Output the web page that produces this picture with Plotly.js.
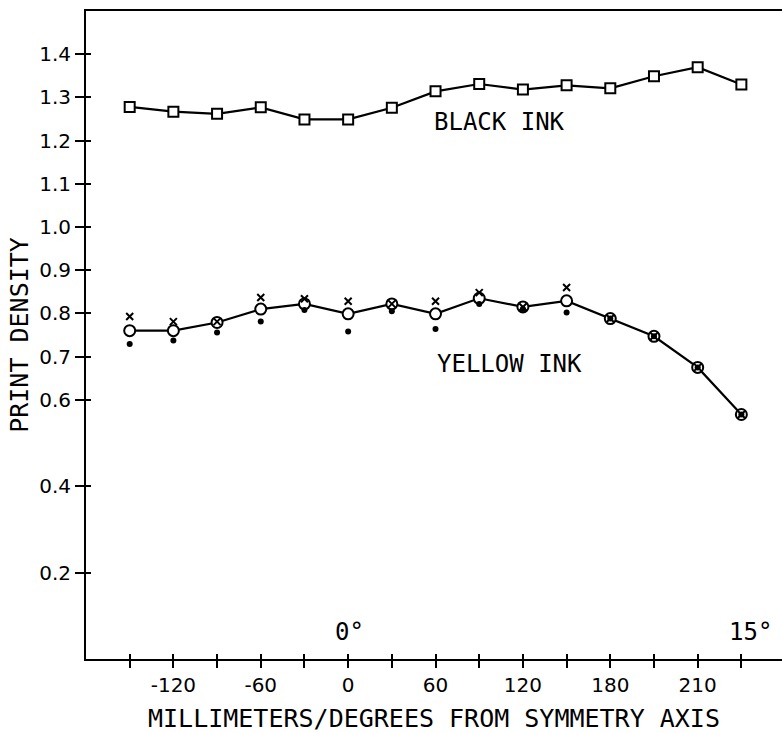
<!DOCTYPE html>
<html>
<head>
<meta charset="utf-8">
<script src="https://cdn.plot.ly/plotly-3.0.1.min.js"></script>
<style>html,body{margin:0;padding:0;background:#fff;overflow:hidden}</style>
</head>
<body>
<div id="chart" style="width:782px;height:733px"></div>
<script>
// Positions along the axis (millimetres / degrees from symmetry axis)
const positions = ['-150','-120','-90','-60','-30','0','30','60','90','120','150','180','195','210','225'];
const tickLabels = ['', '-120', '', '-60', '', '0', '', '60', '', '120', '', '180', '', '210', ''];

// Black ink print density (open squares)
const blackInk = [1.278, 1.267, 1.262, 1.277, 1.249, 1.249, 1.276, 1.314, 1.331, 1.318, 1.328, 1.321, 1.349, 1.370, 1.330];

// Yellow ink print density (open circles, joined)
const yellowInk = [0.760, 0.760, 0.779, 0.810, 0.822, 0.799, 0.822, 0.799, 0.835, 0.815, 0.829, 0.788, 0.747, 0.675, 0.566];
// Yellow ink, second measurement set (crosses)
const yellowCross = [0.793, 0.781, 0.781, 0.837, 0.834, 0.828, 0.822, 0.828, 0.848, 0.815, 0.860, 0.788, 0.747, 0.675, 0.566];
// Yellow ink, third measurement set (dots)
const yellowDot = [0.729, 0.737, 0.756, 0.781, 0.808, 0.758, 0.805, 0.764, 0.822, 0.810, 0.802, 0.788, 0.747, 0.675, 0.566];

const yTicks = [0.2, 0.4, 0.6, 0.7, 0.8, 0.9, 1.0, 1.1, 1.2, 1.3, 1.4];

const traces = [
  // invisible carriers so the inner-tick axes get drawn
  {x: positions, y: blackInk, type: 'scatter', mode: 'markers', xaxis: 'x', yaxis: 'y2',
   marker: {opacity: 0, size: 1}, hoverinfo: 'skip'},
  {x: positions, y: blackInk, type: 'scatter', mode: 'markers', xaxis: 'x2', yaxis: 'y',
   marker: {opacity: 0, size: 1}, hoverinfo: 'skip'},
  {
    x: positions, y: blackInk, type: 'scatter', mode: 'lines+markers',
    line: {color: '#000', width: 2.2},
    marker: {symbol: 'square', size: 10, color: '#fff', line: {color: '#000', width: 2}},
    cliponaxis: false, hoverinfo: 'skip'
  },
  {
    x: positions, y: yellowInk, type: 'scatter', mode: 'lines+markers',
    line: {color: '#000', width: 2.2},
    marker: {symbol: 'circle', size: 11, color: '#fff', line: {color: '#000', width: 2}},
    cliponaxis: false, hoverinfo: 'skip'
  },
  {
    x: positions, y: yellowCross, type: 'scatter', mode: 'markers',
    marker: {symbol: 'x-thin-open', size: 7, color: '#000', line: {color: '#000', width: 2}},
    cliponaxis: false, hoverinfo: 'skip'
  },
  {
    x: positions, y: yellowDot, type: 'scatter', mode: 'markers',
    marker: {symbol: 'circle', size: 6, color: '#000', line: {width: 0}},
    cliponaxis: false, hoverinfo: 'skip'
  }
];

const tickFont = {family: 'DejaVu Sans, sans-serif', size: 20, color: '#000'};
const textFont = {family: 'DejaVu Sans Mono, monospace', size: 25, color: '#000'};
const annFont = {family: 'DejaVu Sans Mono, monospace', size: 24, color: '#000'};

const layout = {
  width: 782, height: 733,
  margin: {l: 86, r: 0, t: 11, b: 74},
  paper_bgcolor: '#fff', plot_bgcolor: '#fff',
  showlegend: false,
  xaxis: {
    type: 'category',
    categoryorder: 'array', categoryarray: positions,
    range: [-1, 14.93],
    tickmode: 'array', tickvals: positions, ticktext: tickLabels,
    ticks: 'outside', ticklen: 7, tickwidth: 2, tickcolor: '#000',
    showline: true, linecolor: '#000', linewidth: 2, mirror: true,
    showgrid: false, zeroline: false,
    tickfont: tickFont,
    title: {text: 'MILLIMETERS/DEGREES FROM SYMMETRY AXIS', font: textFont, standoff: 20}
  },
  yaxis: {
    range: [0, 1.5],
    tickmode: 'array', tickvals: yTicks, tickformat: '.1f',
    ticks: 'outside', ticklen: 9, tickwidth: 2, tickcolor: '#000',
    showline: true, linecolor: '#000', linewidth: 2,
    showgrid: false, zeroline: false,
    tickfont: tickFont,
    title: {text: 'PRINT DENSITY', font: textFont, standoff: 3}
  },
  // inner halves of the crossing ticks
  xaxis2: {
    type: 'category', overlaying: 'x', anchor: 'y', side: 'bottom',
    categoryorder: 'array', categoryarray: positions,
    range: [-1, 14.93],
    tickmode: 'array', tickvals: positions, ticktext: tickLabels,
    ticks: 'inside', ticklen: 5, tickwidth: 2, tickcolor: '#000',
    showticklabels: false, showline: false, showgrid: false, zeroline: false
  },
  yaxis2: {
    overlaying: 'y', anchor: 'x', side: 'left',
    range: [0, 1.5],
    tickmode: 'array', tickvals: yTicks,
    ticks: 'inside', ticklen: 5, tickwidth: 2, tickcolor: '#000',
    showticklabels: false, showline: false, showgrid: false, zeroline: false
  },
  annotations: [
    {x: 8.47, y: 1.243, xref: 'x', yref: 'y', text: 'BLACK INK', showarrow: false, font: annFont, xanchor: 'center', yanchor: 'middle'},
    {x: 8.69, y: 0.684, xref: 'x', yref: 'y', text: 'YELLOW INK', showarrow: false, font: annFont, xanchor: 'center', yanchor: 'middle'},
    {x: 5.03, y: 0.063, xref: 'x', yref: 'y', text: '0°', showarrow: false, font: annFont, xanchor: 'center', yanchor: 'middle'},
    {x: 14.2, y: 0.063, xref: 'x', yref: 'y', text: '15°', showarrow: false, font: annFont, xanchor: 'center', yanchor: 'middle'}
  ]
};

Plotly.newPlot('chart', traces, layout, {staticPlot: true, displayModeBar: false});
</script>
</body>
</html>
